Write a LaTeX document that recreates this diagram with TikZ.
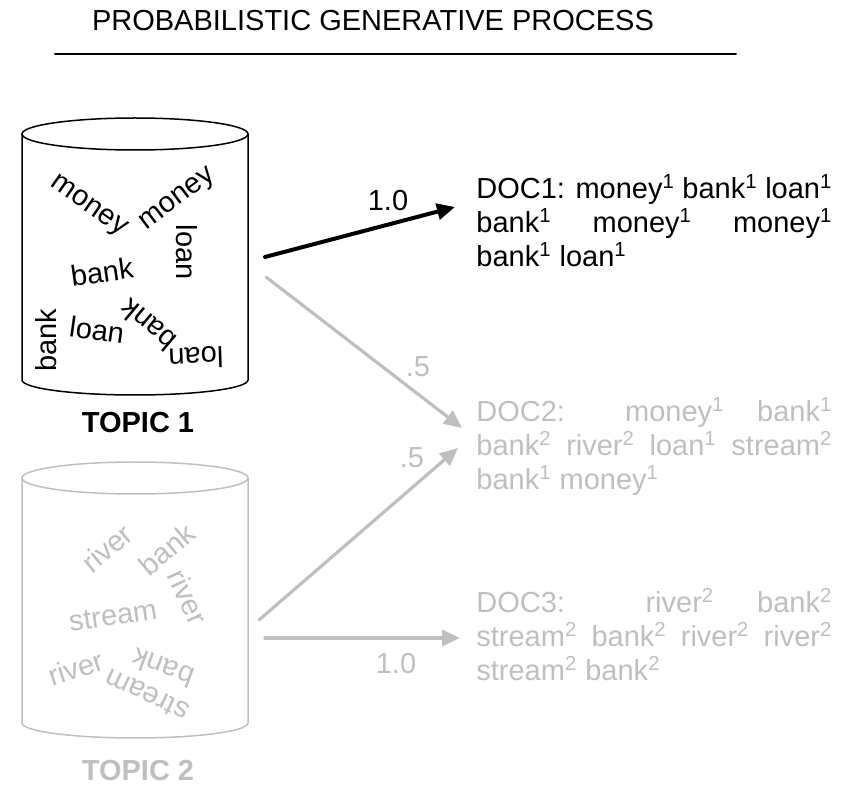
\documentclass[tikz,border=0pt]{standalone}
\usepackage{fontspec}
\setmainfont{Liberation Sans}
\usetikzlibrary{arrows.meta}
\definecolor{fade}{gray}{0.75}
\newcommand{\up}[1]{\textsuperscript{#1}}
\tolerance=9999
\hbadness=10000

\begin{document}
\begin{tikzpicture}[x=0.5pt,y=-0.5pt,line join=round,line cap=round,
	every node/.style={font=\fontsize{14.5}{17}\selectfont,inner sep=0pt},
	cyl/.style={line width=0.75pt},
	link/.style={line width=1.6pt,-{Triangle[length=9pt,width=8pt]}},
	doc/.style={text width=178pt,align=justify,anchor=base west},
	topic/.style={anchor=base,font=\fontsize{14.5}{17}\selectfont\bfseries}]
	\useasboundingbox (0,0) rectangle (848,786);
	% title
	\node[anchor=base] (title) at (373,31) {PROBABILISTIC GENERATIVE PROCESS};
	\path (55,54) coordinate (L) (736,54) coordinate (R);
	\draw[line width=1pt] (L)--(R);
	% topic cylinders
	\foreach \c/\yt/\yb/\col in {1/134/380/black,2/478/723/fade}{
		\draw[cyl,\col] (22,\yt) coordinate (top\c) -- (22,\yb) arc[start angle=180,end angle=360,x radius=56.5pt,y radius=7.5pt] -- (248,\yt);
		\draw[cyl,\col] (135,\yt) ellipse[x radius=56.5pt,y radius=8pt];
	}
	\foreach \x/\y/\r/\w [count=\i] in {88/207/-35/money,178/200/37/money,187/252/-90/loan,102/272/8/bank,46/340/90/bank,97/330/-8/loan,148/325/140/bank,196/358/182/loan}
	\node[rotate=\r] (wa\i) at (\x,\y) {\w};
	\foreach \x/\y/\r/\w [count=\i] in {107/548/40/river,167/549/40/bank,188/597/-65/river,113/616/8/stream,76/668/18/river,163/668/160/bank,147/695/155/stream}
	\node[rotate=\r,fade] (wb\i) at (\x,\y) {\w};
	\node[topic] (topic1) at (138,433) {TOPIC 1};
	\node[topic,fade] (topic2) at (138,781) {TOPIC 2};
	% documents
	\node[doc] (doc1) at (476,199) {DOC1: money\up1 bank\up1 loan\up1\linebreak bank\up1 money\up1 money\up1\linebreak bank\up1 loan\up1};
	\node[doc,fade] (doc2) at (476,422) {DOC2: money\up1 bank\up1\linebreak bank\up2 river\up2 loan\up1 stream\up2\linebreak bank\up1 money\up1};
	\node[doc,fade] (doc3) at (476,613) {DOC3: river\up2 bank\up2\linebreak stream\up2 bank\up2 river\up2 river\up2\linebreak stream\up2 bank\up2};
	% mixing weights
	\path (265,257) coordinate (s1) (266,277) coordinate (s2)
	(259,620) coordinate (s3) (265,638) coordinate (s4)
	(455,207) coordinate (e1) (462,428) coordinate (e2)
	(458,448) coordinate (e3) (460,638) coordinate (e4);
	\draw[link,line width=2pt] (s1)--(e1);
	\foreach \i in {2,3,4}
	\draw[link,fade] (s\i)--(e\i);
	\foreach \x/\y/\t/\col [count=\i] in {388/201/1.0/black,418/367/.5/fade,412/458/.5/fade,396/664/1.0/fade}
	\node[\col] (p\i) at (\x,\y) {\t};
\end{tikzpicture}
\end{document}
